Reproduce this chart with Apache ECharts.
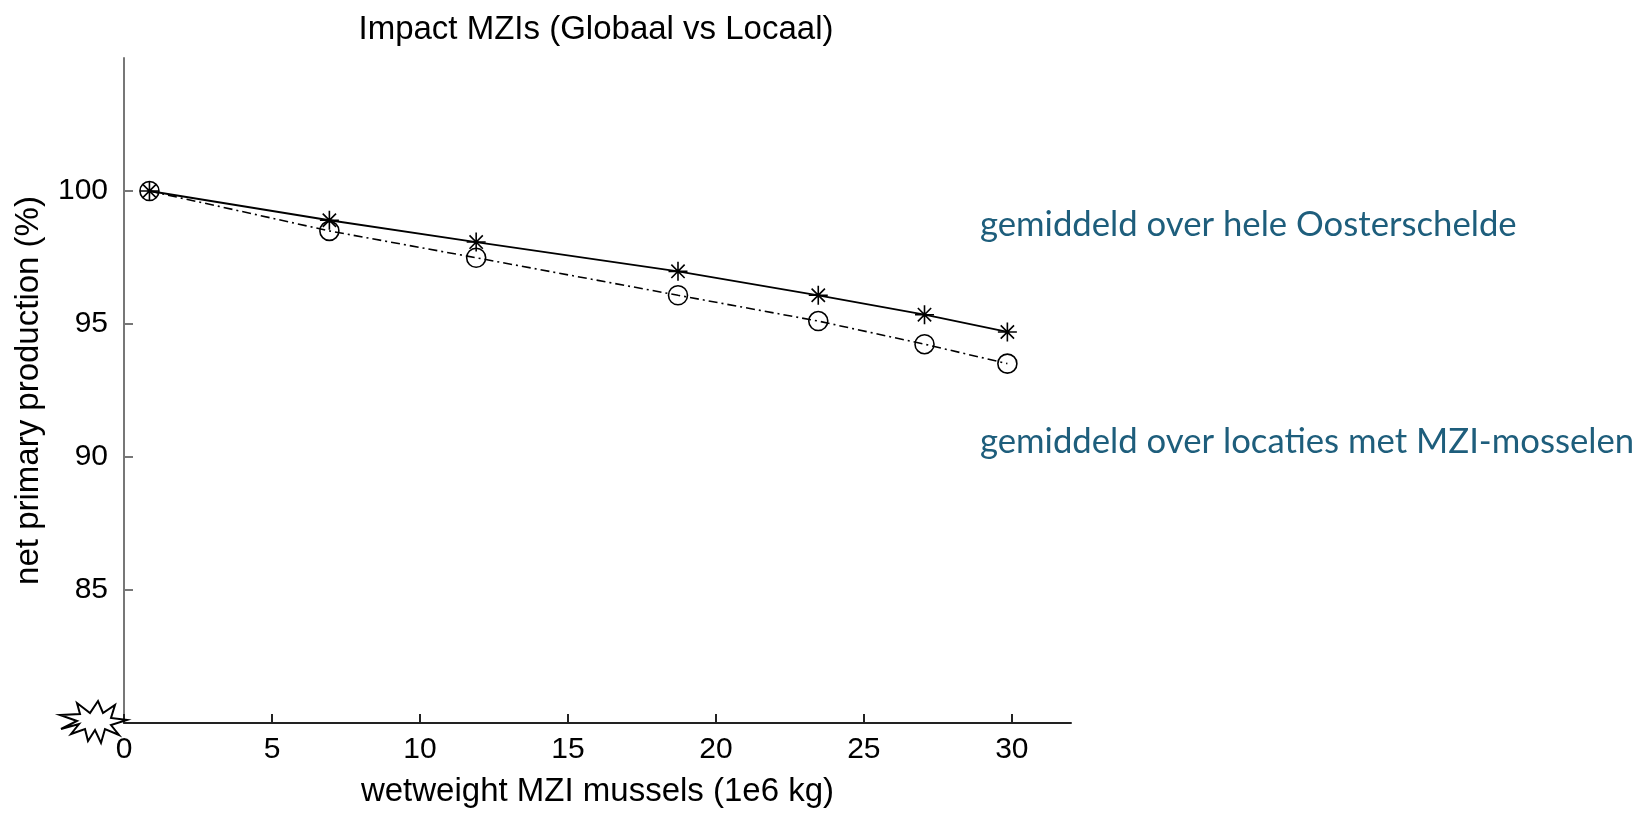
<!DOCTYPE html>
<html>
<head>
<meta charset="utf-8">
<script src="https://cdn.jsdelivr.net/npm/echarts@6/dist/echarts.min.js"></script>
<style>
html,body{margin:0;padding:0;background:#fff;}
#chart{width:1638px;height:813px;}
</style>
</head>
<body>
<div id="chart"></div>
<script>
// ---- data ----
const xValues = [0.86, 6.94, 11.9, 18.72, 23.46, 27.05, 29.85];
const globalValues = [100, 98.9, 98.08, 96.98, 96.08, 95.35, 94.70];
const localValues = [100, 98.5, 97.49, 96.08, 95.11, 94.24, 93.51];
const xTicks = [0, 5, 10, 15, 20, 25, 30];
const yTicks = [85, 90, 95, 100];
const titleText = 'Impact MZIs (Globaal vs Locaal)';
const xName = 'wetweight MZI mussels (1e6 kg)';
const yName = 'net primary production (%)';
const noteGlobal = 'gemiddeld over hele Oosterschelde';
const noteLocal = 'gemiddeld over locaties met MZI-mosselen';

const chart = echarts.init(document.getElementById('chart'), null, {renderer: 'canvas'});
const FONT = 'Liberation Sans, Arial, sans-serif';
const TICKFONT = '"Liberation Sans Narrow", "Arial Narrow", sans-serif';
const starPath = 'path://M0,10L20,10M10,0L10,20M3,3L17,17M17,3L3,17';

const pair = (xs, ys) => xs.map((x, i) => [x, ys[i]]);

const option = {
  backgroundColor: '#fff',
  animation: false,
  title: {
    text: titleText,
    left: 591,
    top: 8,
    textAlign: 'center',
    textStyle: {fontFamily: FONT, fontSize: 33, fontWeight: 'normal', color: '#000'}
  },
  grid: {left: 124, right: 567, top: 58, bottom: 90, containLabel: false},
  xAxis: {
    type: 'value', min: 0, max: 32, interval: 5,
    name: xName, nameLocation: 'middle', nameGap: 52,
    nameTextStyle: {fontFamily: FONT, fontSize: 33, color: '#000'},
    splitLine: {show: false},
    axisLine: {show: true, lineStyle: {color: '#222', width: 2}},
    axisTick: {show: true, inside: true, length: 9, customValues: xTicks, lineStyle: {color: '#222', width: 2}},
    axisLabel: {fontFamily: TICKFONT, fontSize: 30, color: '#000', margin: 12, customValues: xTicks}
  },
  yAxis: {
    type: 'value', min: 80, max: 105, interval: 5,
    name: yName, nameLocation: 'middle', nameGap: 79, nameRotate: 90,
    nameTextStyle: {fontFamily: FONT, fontSize: 33, color: '#000'},
    splitLine: {show: false},
    axisLine: {show: true, lineStyle: {color: '#777', width: 2}},
    axisTick: {show: true, inside: true, length: 9, customValues: yTicks, lineStyle: {color: '#777', width: 2}},
    axisLabel: {fontFamily: TICKFONT, fontSize: 30, color: '#000', margin: 16, customValues: yTicks}
  },
  series: [
    {
      name: 'Globaal', type: 'line', data: pair(xValues, globalValues),
      symbol: starPath, symbolSize: 19,
      lineStyle: {color: '#000', width: 1.8, type: 'solid'},
      itemStyle: {color: 'none', borderColor: '#000', borderWidth: 1.6},
      z: 3
    },
    {
      name: 'Locaal', type: 'line', data: pair(xValues, localValues),
      symbol: 'circle', symbolSize: 19,
      lineStyle: {color: '#000', width: 1.6, type: [9, 4, 2, 4]},
      itemStyle: {color: 'transparent', borderColor: '#000', borderWidth: 1.6},
      z: 2
    }
  ]
};
chart.setOption(option);

// annotations and broken-axis starburst, positioned from the axes
function decorate() {
  const corner = chart.convertToPixel({gridIndex: 0}, [0, 80]);
  const cx = corner[0] - 30, cy = corner[1] - 1;
  const burst = [
    [-34, -7], [-14, -8], [-17, -19], [-4, -9], [4, -21], [9, -9], [21, -17],
    [17, -4], [33, -2], [17, 3], [25, 13], [11, 7], [7, 21], [1, 8],
    [-6, 19], [-9, 7], [-23, 12], [-15, 2], [-33, 7], [-17, -1]
  ].map(p => [cx + p[0], cy + p[1]]);
  chart.setOption({
    graphic: [
      {type: 'polygon', shape: {points: burst}, style: {fill: '#fff', stroke: '#000', lineWidth: 2}, z: 100},
      {type: 'text', left: 980, top: 207, style: {text: noteGlobal, fill: '#1E5E7C', font: '34.7px Lato, sans-serif'}, z: 100},
      {type: 'text', left: 980, top: 424, style: {text: noteLocal, fill: '#1E5E7C', font: '34.7px Lato, sans-serif'}, z: 100}
    ]
  });
}
decorate();
</script>
</body>
</html>
